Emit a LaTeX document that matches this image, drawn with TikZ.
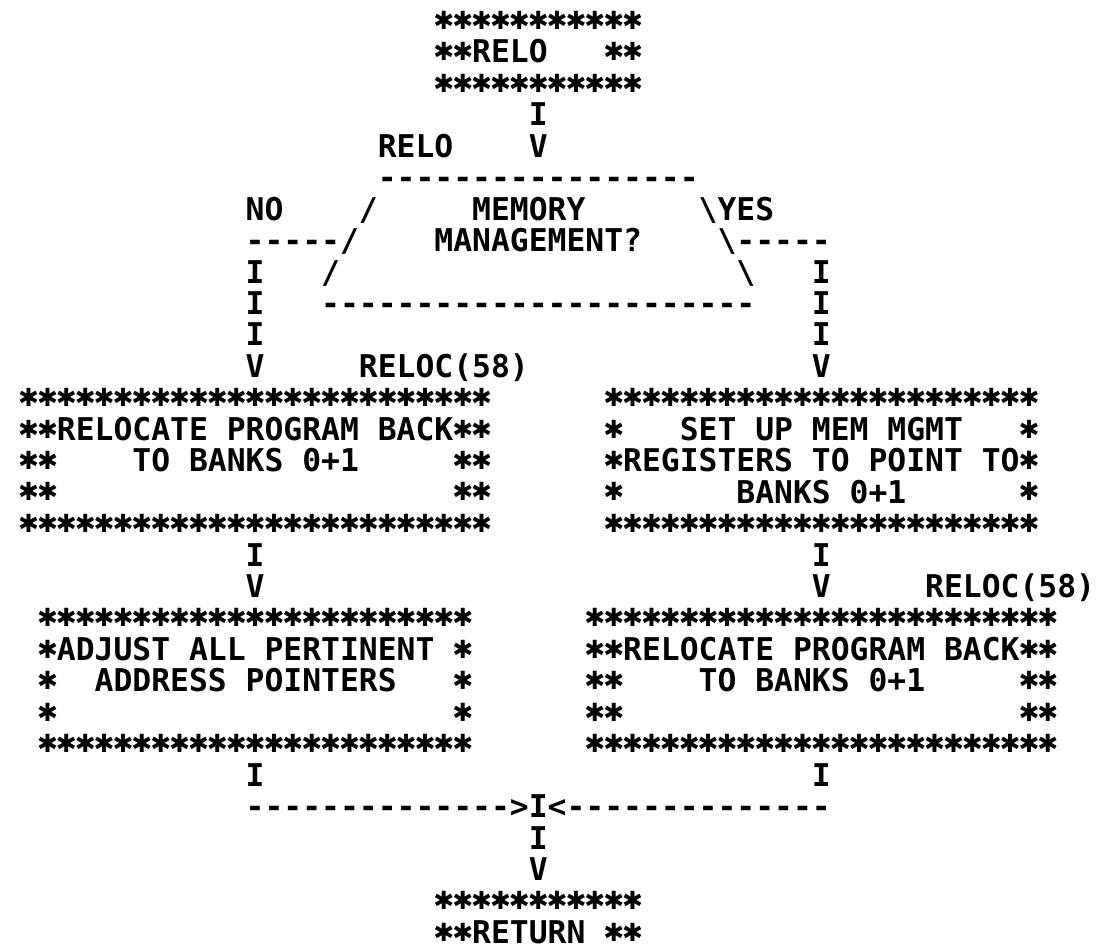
\documentclass[tikz,border=0pt]{standalone}
\usepackage{fontspec}
\setmonofont{DejaVu Sans Mono}
\newfontfamily\starfont{DejaVu Sans}

\newlength\cw
\setlength\cw{18.874pt}
\newcommand\asciifont{\ttfamily\bfseries\fontsize{31.35}{31.45}\selectfont\lineskiplimit=-100pt\relax}
% one printed asterisk, one column wide
\newcommand\sk{\makebox[\cw]{\raisebox{11.4pt}{\raisebox{\dimexpr-0.5\height+0.5\depth\relax}{\starfont\bfseries\fontsize{25}{25}\selectfont ✱}}}}
\newcommand\reps[2]{\foreach \k in {1,...,#1}{#2}}
\newcommand\skr[1]{\reps{#1}{\sk}}
\newcommand\gap[1]{\hspace*{#1\cw}}

\begin{document}
\begin{tikzpicture}[x=18.874pt, y=-31.45pt,
  ascii/.style={inner sep=0pt, outer sep=0pt, anchor=base west, align=left, font=\asciifont},
  conn/.style={ascii},
  lbl/.style={ascii}
]
\useasboundingbox (-1.0173,0) rectangle (57.05,30.175);

% (col,row) of the printout grid, row = last line of the node
\node[ascii] (relo) at (22,3) {\skr{11}\\
  \sk\sk RELO\gap{3}\sk\sk\\
  \skr{11}};
\node[conn] (c1) at (27,5) {I\\V};
\node[lbl] (relolbl) at (19,5) {RELO};

\node[ascii] (memq) at (16,10) {\gap{3}\reps{17}{-}\\
  \gap{2}/\gap{5}MEMORY\gap{6}\textbackslash\\
  \gap{1}/\gap{4}MANAGEMENT?\gap{4}\textbackslash\\
  /\gap{21}\textbackslash\\
  \reps{23}{-}};
\node[lbl] (no) at (12,8) {NO\\-----};
\node[lbl] (yes) at (37,8) {YES\\\gap{1}-----};
\node[conn] (c2) at (12,12) {I\\I\\I\\V};
\node[conn] (c3) at (42,12) {I\\I\\I\\V};
\node[lbl] (reloc1) at (18,12) {RELOC(58)};

\node[ascii] (back1) at (0,17) {\skr{25}\\
  \sk\sk RELOCATE PROGRAM BACK\sk\sk\\
  \sk\sk\gap{4}TO BANKS 0+1\gap{5}\sk\sk\\
  \sk\sk\gap{21}\sk\sk\\
  \skr{25}};
\node[ascii] (setup) at (31,17) {\skr{23}\\
  \sk\gap{3}SET UP MEM MGMT\gap{3}\sk\\
  \sk REGISTERS TO POINT TO\sk\\
  \sk\gap{6}BANKS 0+1\gap{6}\sk\\
  \skr{23}};

\node[conn] (c4) at (12,19) {I\\V};
\node[conn] (c5) at (42,19) {I\\V};
\node[lbl] (reloc2) at (48,19) {RELOC(58)};

\node[ascii] (adjust) at (1,24) {\skr{23}\\
  \sk ADJUST ALL PERTINENT\gap{1}\sk\\
  \sk\gap{2}ADDRESS POINTERS\gap{3}\sk\\
  \sk\gap{21}\sk\\
  \skr{23}};
\node[ascii] (back2) at (30,24) {\skr{25}\\
  \sk\sk RELOCATE PROGRAM BACK\sk\sk\\
  \sk\sk\gap{4}TO BANKS 0+1\gap{5}\sk\sk\\
  \sk\sk\gap{21}\sk\sk\\
  \skr{25}};

\node[conn] (c6) at (12,25) {I};
\node[conn] (c7) at (42,25) {I};
\node[conn] (joinl) at (12,26) {\reps{14}{-}>};
\node[conn] (c8) at (27,28) {I\\I\\V};
\node[conn] (joinr) at (28,26) {<\reps{14}{-}};

\node[ascii] (ret) at (22,30) {\skr{11}\\
  \sk\sk RETURN\gap{1}\sk\sk};
\end{tikzpicture}
\end{document}
